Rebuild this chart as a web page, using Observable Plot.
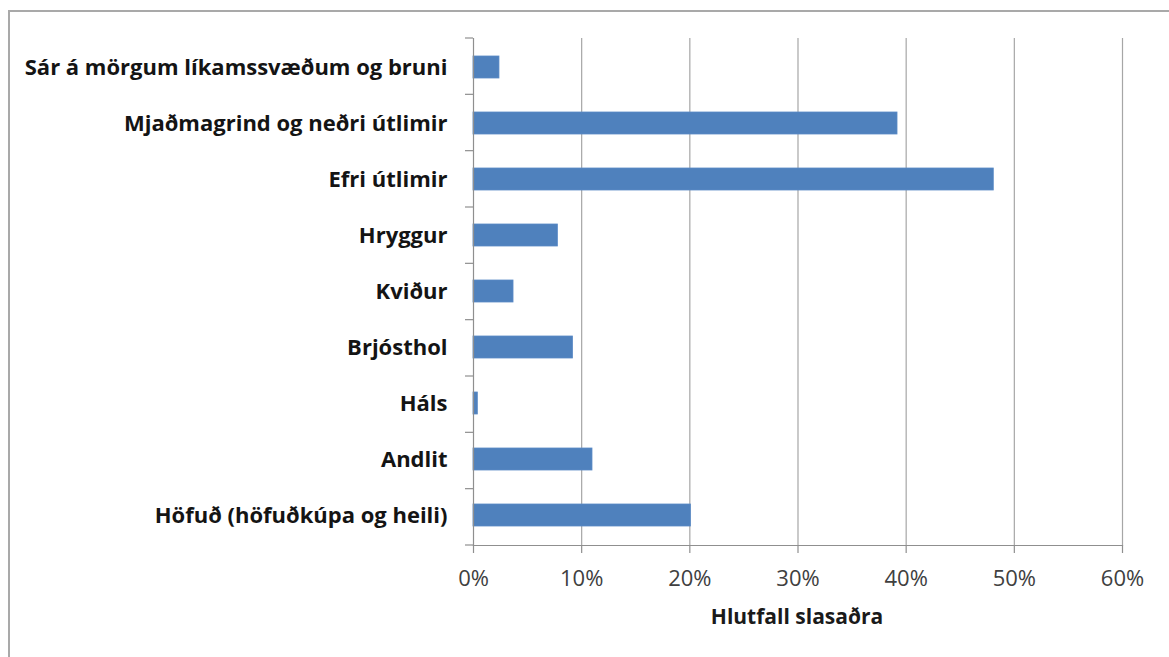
<!DOCTYPE html>
<html><head><meta charset="utf-8">
<script src="https://cdn.jsdelivr.net/npm/d3@7"></script>
<script src="https://cdn.jsdelivr.net/npm/@observablehq/plot@0.6"></script>
<style>
html,body{margin:0;padding:0;background:#fff;}
#wrap{position:relative;width:1169px;height:657px;overflow:hidden;background:#fff;}
#frame{position:absolute;left:8px;top:10px;width:1200px;height:700px;border-top:2px solid #a9a9a9;border-left:2px solid #a9a9a9;}
#chart{position:absolute;left:0;top:0;}
#xlabel{position:absolute;left:473px;width:648px;top:602px;text-align:center;font-family:"Open Sans",sans-serif;font-weight:bold;font-size:21px;color:#1a1a1a;}
</style></head><body>
<div id="wrap"><div id="frame"></div><div id="chart"></div><div id="xlabel"></div></div>
<script>
const categories = [
  "Sár á mörgum líkamssvæðum og bruni",
  "Mjaðmagrind og neðri útlimir",
  "Efri útlimir",
  "Hryggur",
  "Kviður",
  "Brjósthol",
  "Háls",
  "Andlit",
  "Höfuð (höfuðkúpa og heili)"
];
const values = [0.024, 0.392, 0.481, 0.078, 0.037, 0.092, 0.004, 0.110, 0.201];
const xTicks = [0, 0.1, 0.2, 0.3, 0.4, 0.5, 0.6];
const xLabel = "Hlutfall slasaðra";

const data = categories.map((c, i) => ({category: c, value: values[i]}));

const gridColor = "#a6a6a6";
const axisColor = "#8f8f8f";

function categoryTicks(index, scales, vals, dims) {
  const n = categories.length;
  const top = dims.marginTop, bottom = dims.height - dims.marginBottom;
  const step = (bottom - top) / n;
  const x0 = scales.x(0);
  const g = d3.create("svg:g").attr("stroke", axisColor).attr("stroke-width", 1.2);
  for (let k = 0; k <= n; k++) {
    const yy = top + k * step;
    g.append("line").attr("x1", x0 - 8).attr("x2", x0).attr("y1", yy).attr("y2", yy);
  }
  return g.node();
}

const chart = Plot.plot({
  width: 1169,
  height: 657,
  marginLeft: 473,
  marginRight: 47,
  marginTop: 38,
  marginBottom: 112,
  style: {fontFamily: "'Open Sans', sans-serif", fontSize: "22px", background: "transparent"},
  x: {domain: [0, 0.6]},
  y: {domain: categories, paddingInner: 0.6, paddingOuter: 0.3},
  marks: [
    Plot.ruleX(xTicks.filter(t => t > 0), {stroke: gridColor, strokeWidth: 1.2}),
    Plot.barX(data, {x: "value", y: "category", fill: "#4f81bd", stroke: "#5a8ac6", strokeWidth: 0.8}),
    Plot.frame({anchor: "left", stroke: axisColor, strokeWidth: 1.2}),
    Plot.frame({anchor: "bottom", stroke: axisColor, strokeWidth: 1.2}),
    categoryTicks,
    Plot.axisX({ticks: xTicks, tickFormat: d3.format(".0%"), tickSize: 8, tickPadding: 17,
      stroke: axisColor, strokeWidth: 1.2, fill: "#404040", label: null}),
    Plot.axisY({tickSize: 0, tickPadding: 26, fontWeight: "bold", fill: "#141414", label: null})
  ]
});
document.getElementById("chart").appendChild(chart);
document.getElementById("xlabel").textContent = xLabel;
</script>
</body></html>
